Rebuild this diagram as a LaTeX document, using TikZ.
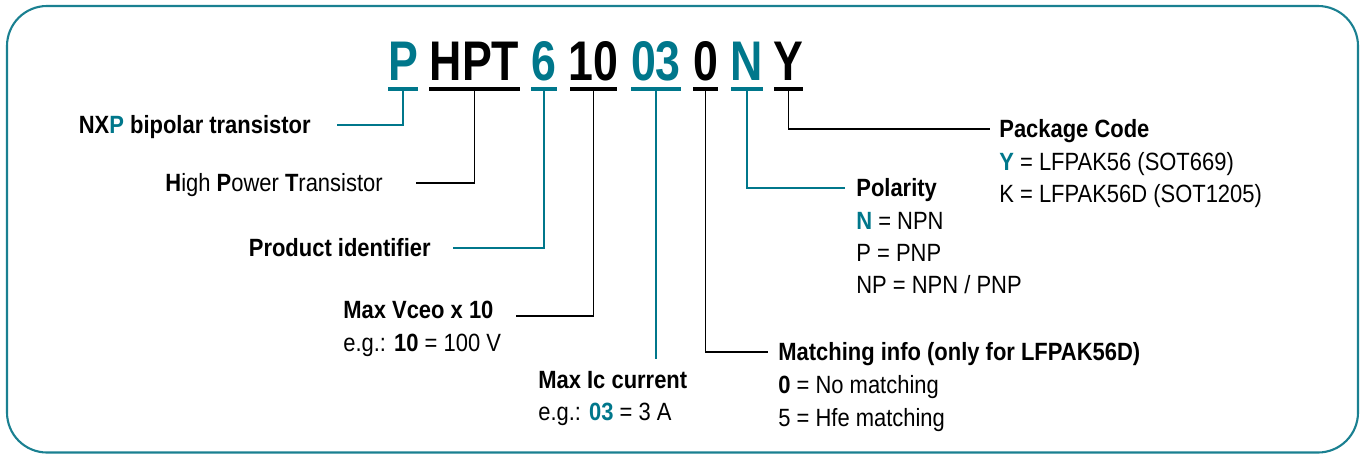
\documentclass[tikz,border=0pt]{standalone}
\usepackage{fontspec}
\setmainfont{Liberation Sans}[FakeStretch=0.88]
\newfontfamily\codefont{Liberation Sans}[FakeStretch=0.8]
\definecolor{nxpteal}{HTML}{00778B}
\definecolor{nxpframe}{HTML}{1A8091}
\newcommand\lblsize{\fontsize{14.2}{17}\selectfont}

\begin{document}
\begin{tikzpicture}[x=0.02cm, y=-0.02cm,
  codepart/.style={anchor=base, inner sep=0pt, font=\codefont\bfseries\fontsize{31.8}{36}\selectfont},
  codebar/.style={fill, inner sep=0pt, minimum height=0.08cm},
  lbl/.style={inner sep=0pt, text height=10.2pt, text depth=0pt, font=\lblsize},
  head/.style={lbl, font=\lblsize\bfseries},
  wire/.style={line width=1.1pt}]
  \useasboundingbox (0,0) rectangle (1360,454);
  \draw[nxpframe, line width=1.2pt, rounded corners=0.8cm] (7,6) rectangle (1358,452.5);

  % type number, one part per field
  \foreach \name/\txt/\cx/\w/\col in {P/P/403/0.6cm/nxpteal, HPT/HPT/474.5/1.82cm/black,
      6/6/544/0.52cm/nxpteal, 10/10/593.5/0.94cm/black, 03/03/656/1.0cm/nxpteal,
      0/0/705.5/0.5cm/black, N/N/747/0.64cm/nxpteal, Y/Y/788.5/0.58cm/black} {
    \node[codepart, \col] (c\name) at (\cx,80) {\txt};
    \node[codebar, \col, minimum width=\w] (b\name) at (\cx,89) {};
  }

  % left side
  \node[head, anchor=east] (nxp) at (311,125) {NX\textcolor{nxpteal}{P} bipolar transistor};
  \node[lbl, anchor=east] (hpt) at (383,183) {\textbf{H}igh \textbf{P}ower \textbf{T}ransistor};
  \node[head, anchor=east] (prod) at (431,248) {Product identifier};
  \node[head, anchor=west] (vceo) at (343,310) {Max Vceo x 10};
  \node[lbl, anchor=west] (vceoex) at (343,343) {e.g.: \textbf{10} = 100 V};
  \node[head, anchor=west] (maxic) at (538,380) {Max Ic current};
  \node[lbl, anchor=west] (maxicex) at (538,412) {e.g.: \textbf{\textcolor{nxpteal}{03}} = 3 A};

  % right side
  \node[head, anchor=west] (match) at (778,352) {Matching info (only for LFPAK56D)};
  \node[lbl, anchor=west] (match0) at (778,385) {\textbf{0} = No matching};
  \node[lbl, anchor=west] (match5) at (778,418) {5 = Hfe matching};
  \node[head, anchor=west] (pol) at (856,188) {Polarity};
  \node[lbl, anchor=west] (polN) at (856,221) {\textbf{\textcolor{nxpteal}{N}} = NPN};
  \node[lbl, anchor=west] (polP) at (856,253) {P = PNP};
  \node[lbl, anchor=west] (polNP) at (856,285) {NP = NPN / PNP};
  \node[head, anchor=west] (pkg) at (999,129) {Package Code};
  \node[lbl, anchor=west] (pkgY) at (999,162) {\textbf{\textcolor{nxpteal}{Y}} = LFPAK56 (SOT669)};
  \node[lbl, anchor=west] (pkgK) at (999,194) {K = LFPAK56D (SOT1205)};

  % connectors
  \draw[wire, nxpteal] (bP) |- ([xshift=0.52cm]nxp.east);
  \draw[wire] (bHPT) |- ([xshift=0.66cm]hpt.east);
  \draw[wire, nxpteal] (b6) |- ([xshift=0.44cm]prod.east);
  \draw[wire] (b10) |- ([xshift=0.44cm, yshift=-0.12cm]vceo.east);
  \draw[wire, nxpteal] (b03) -- ([yshift=0.24cm]b03 |- maxic.north);
  \draw[wire] (b0) |- ([xshift=-0.2cm]match.west);
  \draw[wire, nxpteal] (bN) |- ([xshift=-0.22cm]pol.west);
  \draw[wire] (bY) |- ([xshift=-0.18cm]pkg.west);
\end{tikzpicture}
\end{document}
